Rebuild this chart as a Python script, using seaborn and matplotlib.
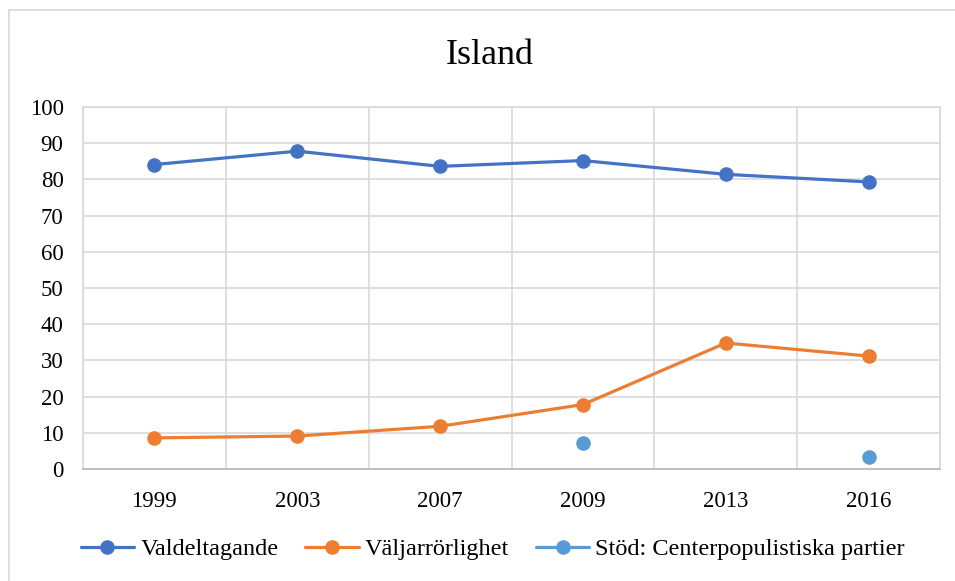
import matplotlib
matplotlib.use("Agg")
import matplotlib.pyplot as plt
from matplotlib.lines import Line2D
from matplotlib.patches import Rectangle
import numpy as np
import pandas as pd
import seaborn as sns

# values
years = ["1999", "2003", "2007", "2009", "2013", "2016"]
valdeltagande = [84.1, 87.8, 83.6, 85.2, 81.4, 79.3]
valjarrorlighet = [8.6, 9.1, 11.8, 17.8, 34.8, 31.2]
centerpopulist = [np.nan, np.nan, np.nan, 7.2, np.nan, 3.4]

series_names = ["Valdeltagande", "Väljarrörlighet", "Stöd: Centerpopulistiska partier"]
colors = ["#4472C4", "#ED7D31", "#5B9BD5"]

sns.set_style("white")
plt.rcParams["font.family"] = ["Liberation Serif", "DejaVu Serif"]
plt.rcParams["text.color"] = "black"

df = pd.DataFrame({
    "pos": np.arange(len(years)),
    series_names[0]: valdeltagande,
    series_names[1]: valjarrorlighet,
    series_names[2]: centerpopulist,
})

fig = plt.figure(figsize=(9.55, 5.81), dpi=100)
ax = fig.add_axes([83 / 955, 1 - 469 / 581, (940 - 83) / 955, (469 - 107) / 581])

# light chart border like the Excel frame
fig.patches.append(Rectangle((9 / 955, -0.05), 1.2, 1 - 10 / 581 + 0.05,
                             transform=fig.transFigure, fill=False,
                             edgecolor="#D9D9D9", linewidth=1.2))

# lines with markers
for name, col in zip(series_names[:2], colors[:2]):
    sns.lineplot(data=df, x="pos", y=name, ax=ax, color=col, linewidth=2.3,
                 marker="o", markersize=10.5, markeredgewidth=0, zorder=3)
sns.scatterplot(data=df, x="pos", y=series_names[2], ax=ax, color=colors[2],
                s=110, linewidth=0, zorder=3)

ax.set_xlim(-0.5, len(years) - 0.5)
ax.set_ylim(0, 100)
ax.set_yticks(range(0, 101, 10))
ax.set_xticks(np.arange(len(years)))
ax.set_xticklabels(years)
ax.set_xticks(np.arange(len(years) + 1) - 0.5, minor=True)
ax.set_xlabel("")
ax.set_ylabel("")

ax.grid(axis="y", which="major", color="#D9D9D9", linewidth=1.2)
ax.grid(axis="x", which="minor", color="#D9D9D9", linewidth=1.2)
ax.set_axisbelow(True)
for side in ["left", "right", "top"]:
    ax.spines[side].set_color("#D9D9D9")
    ax.spines[side].set_linewidth(1.2)
ax.spines["bottom"].set_color("#BFBFBF")
ax.spines["bottom"].set_linewidth(1.4)

ax.tick_params(axis="both", which="both", length=0, labelsize=16.5, colors="black")
ax.tick_params(axis="x", pad=16)
ax.tick_params(axis="y", pad=14)

fig.text(0.513, 1 - 55 / 581, "Island", ha="center", va="center", fontsize=26,
         color="black")

handles = [Line2D([0], [0], color=c, linewidth=2.3, marker="o", markersize=10.5,
                  markeredgewidth=0) for c in colors]
fig.legend(handles, series_names, loc="center", bbox_to_anchor=(0.516, 1 - 549 / 581),
           ncol=3, frameon=False, fontsize=17.5, handlelength=2.2, handletextpad=0.25,
           columnspacing=1.1, labelcolor="black")

fig.savefig("out.png", dpi=100)
